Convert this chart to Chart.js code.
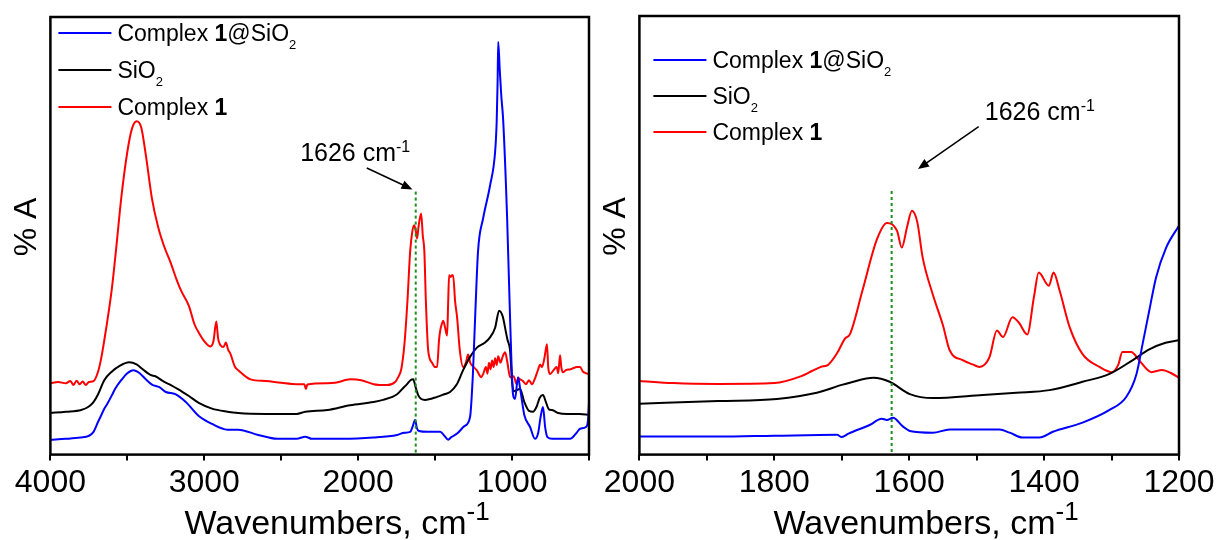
<!DOCTYPE html>
<html>
<head>
<meta charset="utf-8">
<script src="https://cdn.jsdelivr.net/npm/chart.js@4.4.1/dist/chart.umd.min.js"></script>
<style>
  html, body { margin: 0; padding: 0; background: #fff; }
  #wrap { position: relative; width: 1219px; height: 540px; overflow: hidden; }
  canvas { position: absolute; top: 0; }
  #full { left: 0; }
  #zoom { left: 590px; }
</style>
</head>
<body>
<div id="wrap">
  <canvas id="full" width="600" height="540"></canvas>
  <canvas id="zoom" width="629" height="540"></canvas>
</div>
<script>
// ─── Data: full range (4000–500 cm-1) ───────────────
const fullRedWn = [4000,3950,3900,3870,3850,3830,3810,3790,3770,3750,3720,3690,3670,3640,3600,3570,3540,3500,3470,3440,3410,3380,3340,3300,3260,3220,3180,3150,3100,3065,3030,3000,2960,2940,2922,2910,2895,2875,2860,2845,2830,2800,2780,2700,2600,2500,2400,2350,2340,2330,2200,2150,2050,1980,1900,1812,1760,1740,1720,1700,1680,1662,1648,1636,1625,1617,1608,1591,1580,1570,1560,1545,1520,1500,1487,1475,1467,1455,1448,1435,1422,1415,1409,1398,1390,1383,1370,1357,1340,1318,1300,1286,1272,1260,1230,1200,1188,1170,1160,1150,1140,1130,1120,1110,1100,1090,1075,1060,1045,1030,1013,990,970,960,948,930,910,890,870,850,830,818,805,790,773,765,753,730,710,700,688,680,670,650,620,600,580,558,540,520,506,500];
const fullRedAbs = [16.3,16.6,16.3,16.8,15.9,16.9,16.1,16.7,15.9,16.6,16.8,19.0,22.0,28.3,38.1,48.0,58.5,69.2,74.5,76.2,74.8,68.5,58.5,52.0,47.5,44.0,40.0,37.4,34.0,29.9,27.5,25.9,24.7,26.0,30.4,26.5,25.0,24.6,25.6,24.0,23.0,20.0,19.3,17.2,16.8,16.4,16.1,16.1,15.0,16.0,16.3,16.4,17.2,17.0,16.1,15.9,16.6,17.7,19.5,25.0,35.0,46.5,51.0,52.4,51.0,49.4,52.0,55.1,50.0,46.5,35.0,23.8,21.0,20.0,20.0,26.0,28.3,30.0,30.6,29.0,27.2,35.0,41.0,40.6,41.0,41.0,35.0,31.3,24.0,20.0,21.0,22.9,21.0,20.4,19.3,17.7,18.4,20.0,18.5,21.0,19.5,21.5,20.0,22.0,20.5,22.5,21.0,22.5,23.4,21.0,17.7,17.9,16.1,17.5,17.2,16.8,16.1,17.0,16.1,17.5,19.5,20.6,20.0,22.0,25.2,20.0,18.4,19.3,20.0,18.6,22.7,20.0,18.8,19.3,19.5,19.8,20.0,20.0,19.0,18.6,18.4,18.4];

const fullSio2Wn = [4000,3900,3800,3750,3720,3690,3650,3600,3550,3487,3440,3400,3350,3318,3260,3217,3150,3100,3036,2950,2850,2780,2600,2400,2344,2200,2052,1900,1838,1747,1700,1682,1660,1643,1625,1610,1590,1565,1487,1440,1403,1360,1318,1270,1227,1180,1143,1110,1084,1060,1040,1030,1013,1000,990,948,920,890,864,840,820,799,780,760,740,700,640,560,500];
const fullSio2Abs = [9.5,9.8,10.2,11.0,12.0,13.8,17.0,19.0,20.3,21.1,20.6,19.5,18.2,17.9,16.6,15.9,14.5,13.4,11.8,10.5,9.8,9.5,9.3,9.3,9.8,10.2,11.3,12.0,12.5,13.8,15.5,16.1,17.0,17.2,15.2,13.6,12.7,12.5,13.2,13.8,14.3,16.0,19.3,22.5,24.5,25.5,26.8,29.0,32.9,31.5,28.0,26.3,23.8,16.8,14.5,15.0,12.0,10.0,9.8,11.0,13.0,13.6,12.0,10.3,10.2,9.5,9.3,9.3,9.1];

const fullHybWn = [4000,3900,3805,3750,3720,3690,3675,3650,3630,3600,3580,3540,3500,3461,3420,3380,3340,3292,3250,3188,3120,3036,2950,2850,2780,2650,2526,2400,2344,2300,2100,1900,1747,1700,1662,1645,1630,1618,1605,1550,1467,1440,1415,1395,1357,1310,1273,1255,1240,1221,1188,1143,1110,1100,1094,1090,1080,1070,1058,1032,1013,994,981,961,948,920,883,851,830,815,799,785,770,740,623,580,558,520,506,500];
const fullHybAbs = [3.4,3.6,3.9,4.3,5.2,7.5,8.6,10.5,11.6,13.6,15.0,17.0,18.6,19.3,18.6,17.2,16.0,15.4,14.3,13.8,12.0,8.8,7.0,5.7,5.7,4.5,3.6,3.6,4.1,3.6,3.6,3.9,4.5,5.0,5.2,6.5,7.9,6.0,5.4,5.2,5.2,4.3,3.4,4.0,4.8,6.5,8.6,18.0,31.3,46.5,54.0,61.5,69.2,76.0,85.0,94.3,88.0,82.0,76.6,54.0,31.3,13.8,12.7,17.7,15.2,9.0,6.3,3.6,5.0,8.5,10.9,6.3,4.0,3.6,3.6,5.0,5.9,6.3,8.0,12.0];

// ─── Data: zoomed range (2000–1200 cm-1) ────────────
const zoomRedWn = [2000,1950,1883,1800,1760,1745,1731,1720,1707,1695,1688,1669,1648,1633,1618,1611,1603,1596,1588,1580,1565,1550,1540,1520,1505,1496,1481,1470,1461,1447,1437,1425,1415,1408,1393,1386,1377,1362,1343,1318,1299,1290,1284,1271,1259,1248,1241,1225,1212,1200];
const zoomRedAbs = [16.8,16.3,16.1,16.3,17.9,19.0,20.0,20.5,23.1,26.5,27.4,37.6,49.0,52.8,51.0,47.2,52.0,55.6,53.0,44.9,36.5,29.5,23.8,21.5,20.5,20.0,22.2,28.3,26.8,31.3,30.0,27.4,36.0,41.5,38.5,41.5,37.4,29.0,22.9,20.0,18.8,20.5,23.4,23.4,21.5,19.5,18.8,19.3,18.6,17.5];

const zoomSio2Wn = [2000,1883,1796,1737,1700,1688,1653,1629,1599,1565,1491,1441,1392,1343,1303,1269,1244,1220,1200];
const zoomSio2Abs = [11.6,12.2,12.7,14.1,15.9,16.4,17.5,16.6,13.8,12.9,13.6,14.1,14.7,16.6,18.4,21.5,24.0,25.5,26.1];

const zoomHybWn = [2000,1883,1800,1707,1700,1690,1658,1641,1633,1624,1610,1599,1565,1540,1466,1451,1432,1407,1387,1343,1303,1278,1263,1254,1244,1234,1219,1200];
const zoomHybAbs = [4.1,4.1,4.3,4.5,4.0,4.8,6.8,8.2,7.9,8.4,6.5,5.4,5.0,5.7,5.7,5.0,3.9,3.9,5.2,7.3,10.2,13.2,18.4,25.2,32.9,40.4,47.2,52.2];

// marker line at 1626 cm-1
const markWn = [1626, 1626];
const markAbs = [60.1, 0];

const seriesLabels = ['Complex *1*@SiO_2', 'SiO_2', 'Complex *1*'];
const seriesColors = ['#0000ff', '#000000', '#ff0000'];

const FONT = '"Liberation Sans", Arial, sans-serif';

// ─── Rich text (bold / sub / sup) ───────────────────
function parseRich(str) {
  const parts = [];
  const re = /\*([^*]+)\*|_(\S+)|\^(\S+)/g;
  let last = 0, m;
  while ((m = re.exec(str))) {
    if (m.index > last) parts.push({ t: str.slice(last, m.index), k: 'n' });
    if (m[1]) parts.push({ t: m[1], k: 'b' });
    else if (m[2]) parts.push({ t: m[2], k: 'sub' });
    else parts.push({ t: m[3], k: 'sup' });
    last = re.lastIndex;
  }
  if (last < str.length) parts.push({ t: str.slice(last), k: 'n' });
  return parts;
}

function drawRich(ctx, str, x, y, size, st) {
  const fontFor = (k) => {
    if (k === 'b') return `bold ${size}px ${FONT}`;
    if (k === 'sub') return `${Math.round(size * st.sub)}px ${FONT}`;
    if (k === 'sup') return `${Math.round(size * st.sup)}px ${FONT}`;
    return `${size}px ${FONT}`;
  };
  let cx = x;
  parseRich(str).forEach(p => {
    ctx.font = fontFor(p.k);
    const dy = p.k === 'sub' ? st.subDy : (p.k === 'sup' ? -st.supDy : 0);
    ctx.fillText(p.t, cx, y + dy);
    cx += ctx.measureText(p.t).width;
  });
}

// ─── Frame, legend, annotation, x title ─────────────
const panelDecor = {
  id: 'panelDecor',
  afterDraw(chart, args, o) {
    const { ctx, chartArea: a, scales: { x, y } } = chart;
    ctx.save();
    ctx.strokeStyle = '#000';
    ctx.lineWidth = 2.5;
    ctx.strokeRect(a.left, a.top, a.right - a.left, a.bottom - a.top);

    ctx.fillStyle = '#000';
    ctx.textBaseline = 'alphabetic';

    // legend
    let ly = a.top + o.legend.top;
    chart.data.datasets.forEach(ds => {
      if (!ds.label) return;
      ctx.strokeStyle = ds.borderColor;
      ctx.lineWidth = 2;
      ctx.beginPath();
      ctx.moveTo(a.left + o.legend.left, ly);
      ctx.lineTo(a.left + o.legend.left + 53, ly);
      ctx.stroke();
      ctx.fillStyle = '#000';
      drawRich(ctx, ds.label, a.left + o.legend.text, ly + 8, 23, { sub: 0.57, subDy: 8, sup: 0.6, supDy: 8 });
      ly += o.legend.step;
    });

    // annotation + arrow
    const n = o.note;
    drawRich(ctx, '1626 cm^-1', x.getPixelForValue(n.at[0]), y.getPixelForValue(n.at[1]), 25, { sub: 0.6, subDy: 6, sup: 0.64, supDy: 9 });
    const x1 = x.getPixelForValue(n.from[0]), y1 = y.getPixelForValue(n.from[1]);
    const x2 = x.getPixelForValue(n.to[0]), y2 = y.getPixelForValue(n.to[1]);
    const ang = Math.atan2(y2 - y1, x2 - x1);
    ctx.strokeStyle = '#000';
    ctx.lineWidth = 1.5;
    ctx.beginPath();
    ctx.moveTo(x1, y1);
    ctx.lineTo(x2 - 8 * Math.cos(ang), y2 - 8 * Math.sin(ang));
    ctx.stroke();
    ctx.beginPath();
    ctx.moveTo(x2, y2);
    ctx.lineTo(x2 - 11 * Math.cos(ang) + 4.5 * Math.sin(ang), y2 - 11 * Math.sin(ang) - 4.5 * Math.cos(ang));
    ctx.lineTo(x2 - 11 * Math.cos(ang) - 4.5 * Math.sin(ang), y2 - 11 * Math.sin(ang) + 4.5 * Math.cos(ang));
    ctx.closePath();
    ctx.fill();

    // x axis title
    drawRich(ctx, 'Wavenumbers, cm^-1', a.left + o.xTitle.dx, o.xTitle.y, 34, { sub: 0.6, subDy: 8, sup: 0.76, supDy: 14 });
    ctx.restore();
  }
};

function series(wn, abs) {
  return wn.map((w, i) => ({ x: w, y: abs[i] }));
}

function buildPanel(id, cfg) {
  const datasets = [
    { data: series(markWn, markAbs), borderColor: '#1a8f1a', borderWidth: 2, borderDash: [3, 3], order: 0 },
  ];
  cfg.lines.forEach((l, i) => {
    datasets.push({
      label: seriesLabels[i],
      data: series(l[0], l[1]),
      borderColor: seriesColors[i],
      borderWidth: 2,
      cubicInterpolationMode: 'monotone',
      order: i + 1,
    });
  });

  return new Chart(document.getElementById(id), {
    type: 'line',
    data: { datasets },
    plugins: [panelDecor],
    options: {
      responsive: false,
      animation: false,
      devicePixelRatio: 1,
      layout: { padding: cfg.padding },
      elements: { point: { radius: 0 } },
      plugins: {
        legend: { display: false },
        tooltip: { enabled: false },
        panelDecor: cfg.decor,
      },
      scales: {
        x: {
          type: 'linear',
          reverse: true,
          min: cfg.xMin,
          max: cfg.xMax,
          grid: { display: true, drawOnChartArea: false, drawTicks: true, tickLength: 6, color: '#000', lineWidth: 2 },
          border: { display: false },
          ticks: {
            stepSize: cfg.step,
            autoSkip: false,
            maxRotation: 0,
            padding: 3,
            color: '#000',
            font: { size: 32, family: FONT },
            callback: (v) => (v % cfg.labelEvery === 0 ? String(v) : ''),
          },
        },
        y: {
          min: 0,
          max: 100,
          grid: { display: false, drawTicks: false },
          border: { display: false },
          ticks: { display: false },
          title: {
            display: true,
            text: '\u00a0\u00a0% A',
            color: '#000',
            font: { size: 32, family: FONT },
            padding: { top: 4, bottom: 4 },
          },
        },
      },
    },
  });
}

buildPanel('full', {
  lines: [[fullHybWn, fullHybAbs], [fullSio2Wn, fullSio2Abs], [fullRedWn, fullRedAbs]],
  xMin: 500, xMax: 4000, step: 500, labelEvery: 1000,
  padding: { left: 4, right: 11, top: 17, bottom: 35 },
  decor: {
    legend: { left: 8, top: 16, step: 37, text: 67 },
    note: { at: [2377, 67.1], from: [1944, 65.5], to: [1647, 60.6] },
    xTitle: { dx: 134, y: 534 },
  },
});

buildPanel('zoom', {
  lines: [[zoomHybWn, zoomHybAbs], [zoomSio2Wn, zoomSio2Abs], [zoomRedWn, zoomRedAbs]],
  xMin: 1200, xMax: 2000, step: 100, labelEvery: 200,
  padding: { left: 3, right: 40, top: 16, bottom: 35 },
  decor: {
    legend: { left: 14, top: 44, step: 36, text: 73 },
    note: { at: [1488, 76.2], from: [1497, 74.8], to: [1587, 65.1] },
    xTitle: { dx: 134, y: 534 },
  },
});
</script>
</body>
</html>
